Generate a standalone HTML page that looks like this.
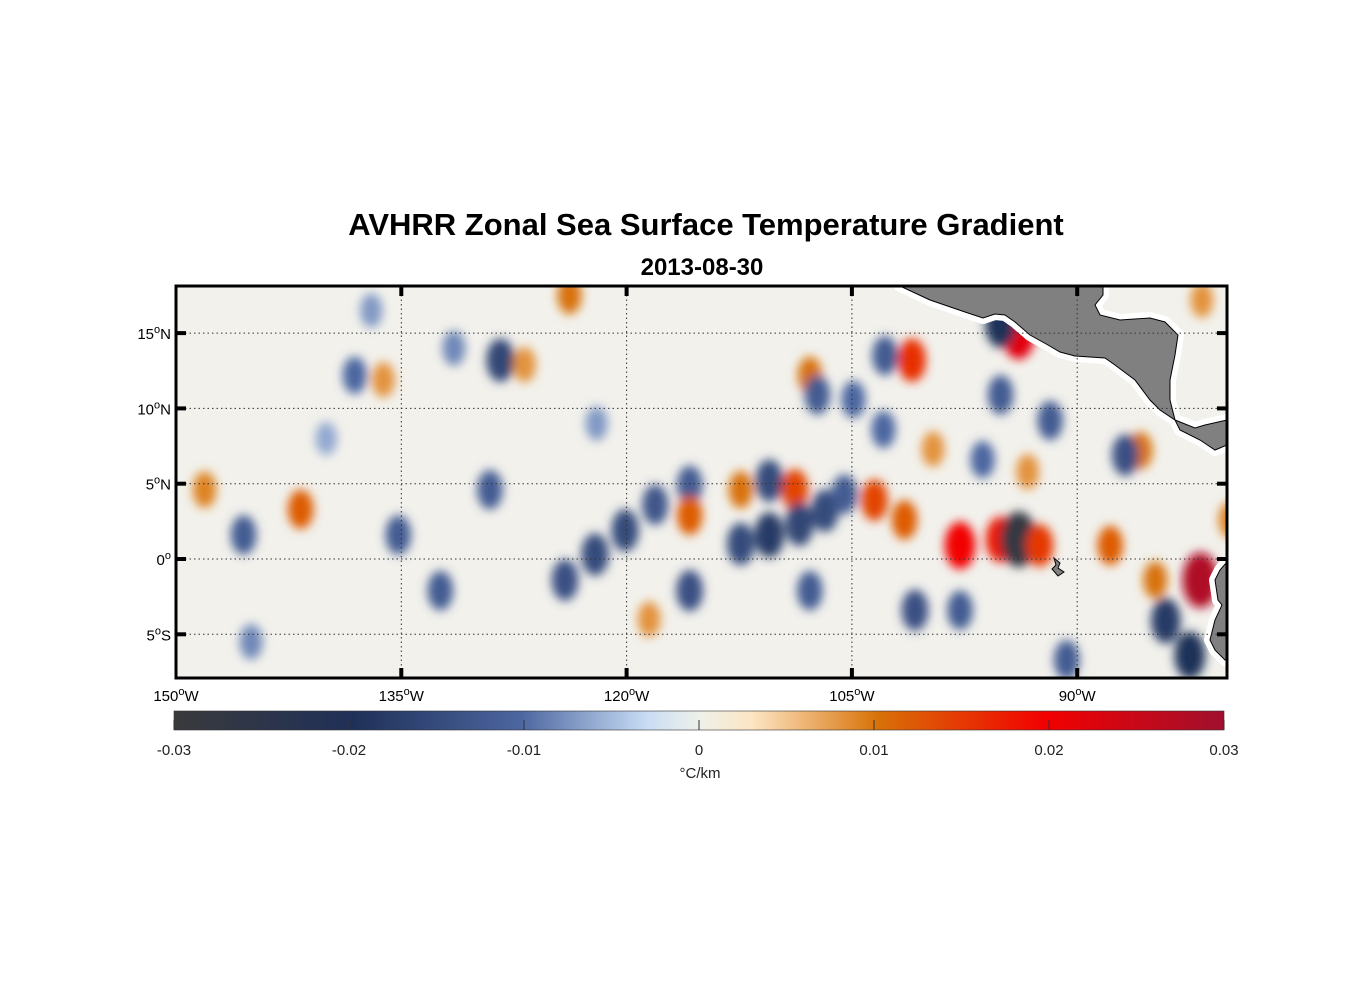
<!DOCTYPE html>
<html><head><meta charset="utf-8">
<style>
body{margin:0;background:#fff;width:1356px;height:1000px;overflow:hidden;font-family:"Liberation Sans",Arial,sans-serif;}
svg{position:absolute;left:0;top:0}
</style></head>
<body>
<svg id="chart" width="1356" height="1000" xmlns="http://www.w3.org/2000/svg">
<defs>
<filter id="blur" x="-50%" y="-50%" width="200%" height="200%"><feGaussianBlur stdDeviation="5"/></filter>
<clipPath id="plotclip"><rect x="176" y="286" width="1051" height="392"/></clipPath>
<linearGradient id="cbar" x1="0" x2="1" y1="0" y2="0">
<stop offset="0" stop-color="#3a3a3c"/><stop offset="0.17" stop-color="#1f3058"/>
<stop offset="0.33" stop-color="#4c66a0"/><stop offset="0.45" stop-color="#c8dcf4"/>
<stop offset="0.5" stop-color="#eef1ea"/><stop offset="0.55" stop-color="#fde6c4"/>
<stop offset="0.67" stop-color="#d87208"/><stop offset="0.83" stop-color="#f20000"/>
<stop offset="1" stop-color="#a0102e"/></linearGradient>
</defs>
<text x="706" y="235" text-anchor="middle" font-size="31" font-weight="bold">AVHRR Zonal Sea Surface Temperature Gradient</text>
<text x="702" y="275" text-anchor="middle" font-size="24" font-weight="bold">2013-08-30</text>
<g id="plot" clip-path="url(#plotclip)">
<rect x="176" y="286" width="1051" height="392" fill="#f2f1ec"/>
<g id="blobs" filter="url(#blur)"></g>
<g id="land">
<g fill="#fff" stroke="#fff" stroke-width="12" stroke-linejoin="round">
<polygon points="900,286 930,300 965,312 983,318 995,314 1005,315 1015,322 1030,335 1048,345 1060,352 1075,356 1105,358 1115,365 1135,380 1150,400 1160,410 1175,420 1195,428 1205,425 1227,420 1227,445 1215,450 1200,440 1180,430 1175,420 1170,400 1170,380 1175,355 1178,335 1165,322 1150,318 1120,320 1100,315 1095,305 1103,295 1103,286"/>
<polygon points="1227,562 1220,570 1215,580 1218,600 1222,605 1215,620 1210,640 1215,650 1225,660 1227,660"/>
</g>
<polygon fill="#808080" stroke="#000" stroke-width="1" points="900,286 930,300 965,312 983,318 995,314 1005,315 1015,322 1030,335 1048,345 1060,352 1075,356 1105,358 1115,365 1135,380 1150,400 1160,410 1175,420 1195,428 1205,425 1227,420 1227,445 1215,450 1200,440 1180,430 1175,420 1170,400 1170,380 1175,355 1178,335 1165,322 1150,318 1120,320 1100,315 1095,305 1103,295 1103,286"/>
<polygon fill="#808080" stroke="#000" stroke-width="1" points="1227,562 1220,570 1215,580 1218,600 1222,605 1215,620 1210,640 1215,650 1225,660 1227,660"/>
<polygon fill="#808080" stroke="#000" stroke-width="1" points="1054,558 1060,563 1058,568 1064,572 1058,576 1052,569 1056,565"/>
</g>
</g>
<g id="grid"></g>
<rect x="176" y="286" width="1051" height="392" fill="none" stroke="#000" stroke-width="3"/>
<g id="axes" font-size="15"></g>
<rect x="174" y="711" width="1050" height="19" fill="url(#cbar)" stroke="#333" stroke-width="0.6"/>
<g id="cbticks" font-size="15" fill="#222"></g>
<text x="700" y="778" text-anchor="middle" font-size="15" fill="#222">°C/km</text>
</svg>
<script>
const blobLon=[-148.1,-141.7,-145.5,-138.1,-136.2,-135.2,-128.4,-126.8,-123.8,-132.4,-129.1,-124.1,-122.1,-120.1,-118.1,-115.8,-115.8,-115.8,-112.4,-110.5,-108.8,-112.4,-110.5,-108.5,-106.8,-105.5,-107.8,-107.8,-107.3,-101,-102.8,-103.5,-101.5,-97.8,-95.1,-93.9,-92.5,-93.9,-95.1,-95.1,-91.8,-87.8,-81.8,-84.1,-82.5,-84.8,-85.8,-86.8,-97.8,-100.8,-90.7,-81.7,-79.8,-104.9,-102.9,-99.6,-96.3,-93.3,-137,-131.5,-140,-145,-122,-118.5];
const blobLat=[4.6,3.3,1.6,12.2,11.9,1.6,13.2,12.9,17.5,-2.1,4.6,-1.4,0.3,1.9,3.6,4.9,2.9,-2.1,4.6,5.2,4.6,1.0,1.6,2.3,3.2,4.3,-2.1,12.2,10.9,13.2,13.5,3.9,2.6,0.9,1.3,1.3,0.9,14.9,15.6,10.9,9.2,0.9,-1.4,-4.1,-6.4,-1.4,7.2,6.9,-3.4,-3.4,-6.7,17.2,2.6,10.6,8.6,7.3,6.6,5.8,16.5,14,8,-5.5,9,-4];
const blobVal=[0.009,0.012,-0.012,-0.01,0.008,-0.012,-0.016,0.008,0.01,-0.012,-0.012,-0.014,-0.015,-0.015,-0.013,-0.012,0.012,-0.014,0.01,-0.015,0.014,-0.015,-0.018,-0.016,-0.015,-0.012,-0.012,0.01,-0.012,0.016,-0.012,0.014,0.012,0.02,0.018,-0.028,0.015,0.022,-0.02,-0.012,-0.012,0.012,0.028,-0.018,-0.02,0.01,0.01,-0.014,-0.012,-0.014,-0.012,0.008,0.009,-0.01,-0.01,0.008,-0.01,0.008,-0.007,-0.008,-0.006,-0.008,-0.007,0.008];
const lonTicks=[-150,-135,-120,-105,-90];
const lonLabels=['150','135','120','105','90'];
const lonSuffix=['W','W','W','W','W'];
const latTicks=[15,10,5,0,-5];
const latLabels=['15','10','5','0','5'];
const latSuffix=['N','N','N','','S'];
const cbTicks=[-0.03,-0.02,-0.01,0,0.01,0.02,0.03];
const cbLabels=['-0.03','-0.02','-0.01','0','0.01','0.02','0.03'];

const NS='http://www.w3.org/2000/svg';
const xOf=lon=>176+(lon+150)*15.02;
const yOf=lat=>559-lat*15.06;
const cbX=v=>174+(v+0.03)/0.06*1050;
const stops=[[-0.03,[58,58,60]],[-0.02,[31,48,88]],[-0.01,[76,102,160]],[-0.003,[200,220,244]],[0,[238,241,234]],[0.003,[253,230,196]],[0.01,[216,114,8]],[0.02,[242,0,0]],[0.03,[160,16,46]]];
function cmap(v){v=Math.max(-0.03,Math.min(0.03,v));for(let i=0;i<stops.length-1;i++){const[a,ca]=stops[i],[b,cb]=stops[i+1];if(v<=b){const t=(v-a)/(b-a);return 'rgb('+ca.map((c,k)=>Math.round(c+(cb[k]-c)*t)).join(',')+')';}}return 'rgb(160,16,46)';}
function mk(tag,attrs,parent){const e=document.createElementNS(NS,tag);for(const k in attrs)e.setAttribute(k,attrs[k]);parent.appendChild(e);return e;}
function degLabel(t,num,suf){
  const a=document.createElementNS(NS,'tspan');a.textContent=num;t.appendChild(a);
  const o=document.createElementNS(NS,'tspan');o.setAttribute('dy','-6');o.setAttribute('font-size','11');o.textContent='o';t.appendChild(o);
  if(suf){const s=document.createElementNS(NS,'tspan');s.setAttribute('dy','6');s.textContent=suf;t.appendChild(s);}
}

const bg=document.getElementById('blobs');
blobVal.forEach((v,i)=>{
  const s=0.8+Math.abs(v)*30;
  const e=mk('ellipse',{cx:xOf(blobLon[i]),cy:yOf(blobLat[i]),rx:11*s,ry:17*s,fill:cmap(v)},bg);
  
  
});
const grid=document.getElementById('grid'),axes=document.getElementById('axes');
lonTicks.forEach((lon,i)=>{
  const x=xOf(lon);
  if(i>0){const l=mk('line',{x1:x,x2:x,y1:286,y2:678,stroke:'#333','stroke-dasharray':'1.5,3','stroke-width':1},grid);
  
  mk('line',{x1:x,x2:x,y1:286,y2:296,stroke:'#000','stroke-width':4},axes);mk('line',{x1:x,x2:x,y1:668,y2:678,stroke:'#000','stroke-width':4},axes);}
  const t=mk('text',{x:x,y:701,'text-anchor':'middle'},axes);degLabel(t,lonLabels[i],lonSuffix[i]);
  
});
latTicks.forEach((lat,i)=>{
  const y=yOf(lat);
  const l=mk('line',{x1:176,x2:1227,y1:y,y2:y,stroke:'#333','stroke-dasharray':'1.5,3','stroke-width':1},grid);
  
  mk('line',{x1:176,x2:186,y1:y,y2:y,stroke:'#000','stroke-width':4},axes);mk('line',{x1:1217,x2:1227,y1:y,y2:y,stroke:'#000','stroke-width':4},axes);
  const t=mk('text',{x:171,y:y+6,'text-anchor':'end'},axes);degLabel(t,latLabels[i],latSuffix[i]);
  
});
const cbt=document.getElementById('cbticks');
cbTicks.forEach((v,i)=>{
  const x=cbX(v);
  mk('line',{x1:x,x2:x,y1:720,y2:730,stroke:'#333','stroke-width':1},cbt);
  const t=mk('text',{x:x,y:755,'text-anchor':'middle'},cbt);t.textContent=cbLabels[i];
  
});
</script>
</body></html>
